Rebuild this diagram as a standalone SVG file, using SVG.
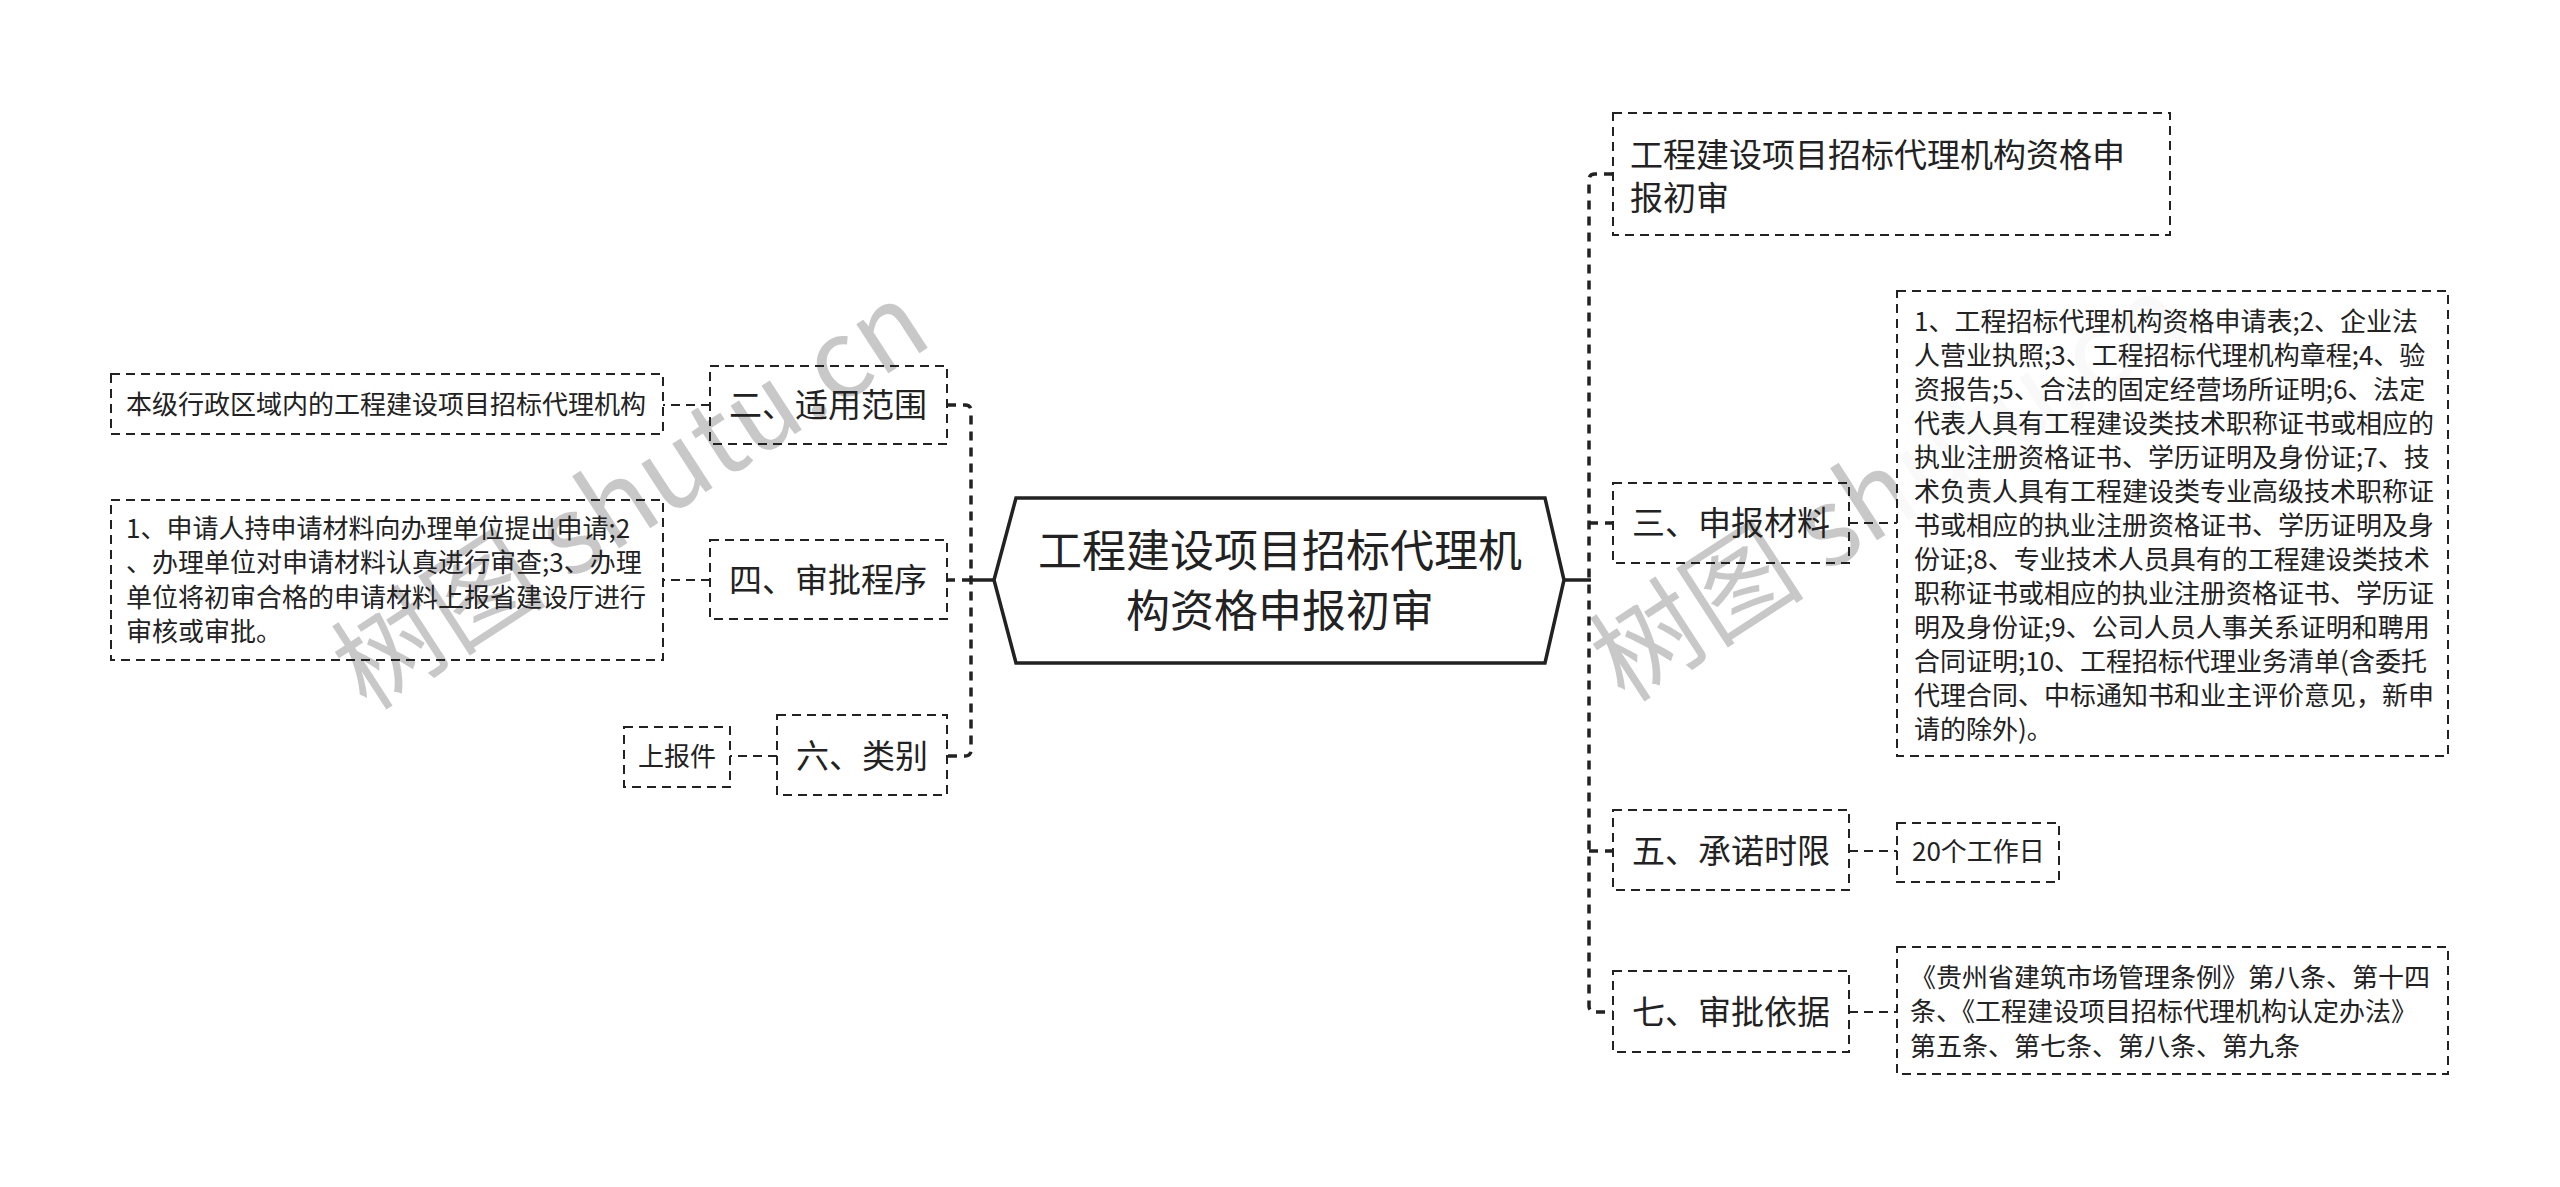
<svg xmlns="http://www.w3.org/2000/svg" width="2560" height="1187" viewBox="0 0 2560 1187">
<style>
.bg{fill:#ffffff}
.box{fill:none;stroke:#222;stroke-width:2;stroke-dasharray:9 6}
.boxw{fill:#ffffff;fill-opacity:0.88;stroke:#222;stroke-width:2;stroke-dasharray:9 6}
.hex{fill:#ffffff;stroke:#222;stroke-width:3.5}
.t{font-family:"Noto Sans CJK SC","Noto Sans",sans-serif;fill:#222}
.lbl{font-size:33px}
.sm{font-size:26px}
.big{font-size:44px}
.mid{text-anchor:middle}
.spine{fill:none;stroke:#222;stroke-width:3.5;stroke-dasharray:9 7}
.solid{fill:none;stroke:#222;stroke-width:3.5}
.link{fill:none;stroke:#222;stroke-width:2;stroke-dasharray:9 6}
.wm{font-family:"Noto Sans CJK SC","Liberation Sans",sans-serif;font-size:108px;fill:#c8c8c8}
</style>
<rect class="bg" x="0" y="0" width="2560" height="1187"/>

<g id="watermarks">
<text class="wm" transform="translate(367,712) rotate(-33)">树图 shutu.cn</text>
<text class="wm" transform="translate(1625,704) rotate(-33)">树图 shutu.cn</text>
</g>

<g id="connectors">
<path class="solid" d="M994 580 H969"/>
<path class="spine" d="M947 405 H965 Q971 405 971 411 V750 Q971 756 965 756 H947"/>
<path class="spine" d="M971 580 H947"/>
<path class="link" d="M710 405 H663"/>
<path class="link" d="M710 580 H663"/>
<path class="link" d="M777 756 H730"/>
<path class="solid" d="M1564 580 H1591"/>
<path class="spine" d="M1613 174 H1595 Q1589 174 1589 180 V1006 Q1589 1012 1595 1012 H1613"/>
<path class="spine" d="M1589 523 H1613"/>
<path class="spine" d="M1589 851 H1613"/>
<path class="link" d="M1849 523 H1897"/>
<path class="link" d="M1849 851 H1897"/>
<path class="link" d="M1849 1012 H1897"/>
</g>

<g id="root">
<polygon class="hex" points="994,580 1016,498 1545,498 1564,580 1545,663 1016,663"/>
<text class="t big mid" x="1280" y="567">工程建设项目招标代理机</text>
<text class="t big mid" x="1280" y="627">构资格申报初审</text>
</g>

<g id="n-title">
<rect class="box" x="1613" y="113" width="557" height="122"/>
<text class="t lbl" x="1630" y="167">工程建设项目招标代理机构资格申</text>
<text class="t lbl" x="1630" y="210">报初审</text>
</g>

<g id="n-3">
<rect class="box" x="1613" y="483" width="236" height="80"/>
<text class="t lbl mid" x="1731" y="535">三、申报材料</text>
</g>

<g id="n-3-detail">
<rect class="boxw" x="1897" y="291" width="551" height="465"/>
<text class="t sm" x="1914" y="331">1、工程招标代理机构资格申请表;2、企业法</text>
<text class="t sm" x="1914" y="365">人营业执照;3、工程招标代理机构章程;4、验</text>
<text class="t sm" x="1914" y="399">资报告;5、合法的固定经营场所证明;6、法定</text>
<text class="t sm" x="1914" y="433">代表人具有工程建设类技术职称证书或相应的</text>
<text class="t sm" x="1914" y="467">执业注册资格证书、学历证明及身份证;7、技</text>
<text class="t sm" x="1914" y="501">术负责人具有工程建设类专业高级技术职称证</text>
<text class="t sm" x="1914" y="535">书或相应的执业注册资格证书、学历证明及身</text>
<text class="t sm" x="1914" y="569">份证;8、专业技术人员具有的工程建设类技术</text>
<text class="t sm" x="1914" y="603">职称证书或相应的执业注册资格证书、学历证</text>
<text class="t sm" x="1914" y="637">明及身份证;9、公司人员人事关系证明和聘用</text>
<text class="t sm" x="1914" y="671">合同证明;10、工程招标代理业务清单(含委托</text>
<text class="t sm" x="1914" y="705">代理合同、中标通知书和业主评价意见，新申</text>
<text class="t sm" x="1914" y="739">请的除外)。</text>
</g>

<g id="n-5">
<rect class="box" x="1613" y="810" width="236" height="80"/>
<text class="t lbl mid" x="1731" y="863">五、承诺时限</text>
</g>

<g id="n-5-detail">
<rect class="box" x="1897" y="823" width="162" height="59"/>
<text class="t sm" x="1912" y="861">20个工作日</text>
</g>

<g id="n-7">
<rect class="box" x="1613" y="971" width="236" height="81"/>
<text class="t lbl mid" x="1731" y="1024">七、审批依据</text>
</g>

<g id="n-7-detail">
<rect class="box" x="1897" y="947" width="551" height="127"/>
<text class="t sm" x="1910" y="987">《贵州省建筑市场管理条例》第八条、第十四</text>
<text class="t sm" x="1910" y="1021">条、《工程建设项目招标代理机构认定办法》</text>
<text class="t sm" x="1910" y="1056">第五条、第七条、第八条、第九条</text>
</g>

<g id="n-2">
<rect class="box" x="710" y="366" width="237" height="78"/>
<text class="t lbl mid" x="828" y="417">二、适用范围</text>
</g>

<g id="n-2-detail">
<rect class="box" x="111" y="374" width="552" height="60"/>
<text class="t sm" x="126" y="414">本级行政区域内的工程建设项目招标代理机构</text>
</g>

<g id="n-4">
<rect class="box" x="710" y="540" width="237" height="79"/>
<text class="t lbl mid" x="828" y="592">四、审批程序</text>
</g>

<g id="n-4-detail">
<rect class="box" x="111" y="500" width="552" height="160"/>
<text class="t sm" x="126" y="538">1、申请人持申请材料向办理单位提出申请;2</text>
<text class="t sm" x="126" y="572">、办理单位对申请材料认真进行审查;3、办理</text>
<text class="t sm" x="126" y="607">单位将初审合格的申请材料上报省建设厅进行</text>
<text class="t sm" x="126" y="641">审核或审批。</text>
</g>

<g id="n-6">
<rect class="box" x="777" y="715" width="170" height="80"/>
<text class="t lbl mid" x="862" y="768">六、类别</text>
</g>

<g id="n-6-detail">
<rect class="box" x="624" y="727" width="106" height="60"/>
<text class="t sm mid" x="677" y="766">上报件</text>
</g>
</svg>
